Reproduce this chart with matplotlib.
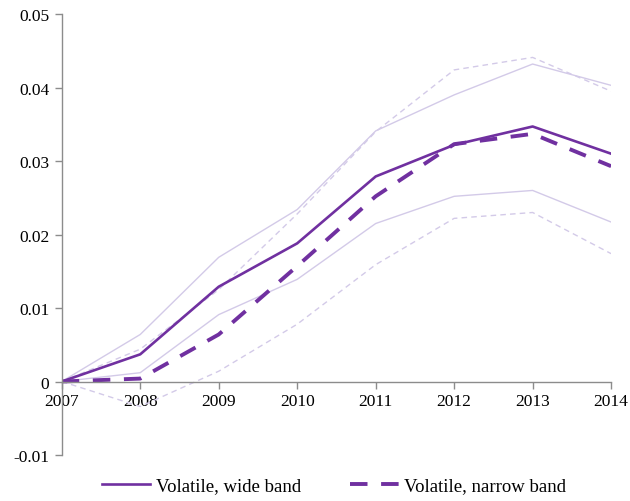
import matplotlib
matplotlib.use("Agg")
import matplotlib.pyplot as plt
from matplotlib.ticker import FixedLocator, FuncFormatter

years = [2007, 2008, 2009, 2010, 2011, 2012, 2013, 2014]

wide_mid = [0.0, 0.0037, 0.0129, 0.0188, 0.0279, 0.0322, 0.0347, 0.0310]
wide_hi = [0.0, 0.0064, 0.0169, 0.0234, 0.0341, 0.0390, 0.0432, 0.0403]
wide_lo = [0.0, 0.0012, 0.0091, 0.0139, 0.0215, 0.0252, 0.0260, 0.0217]

narrow_mid = [0.0, 0.0004, 0.0064, 0.0157, 0.0252, 0.0323, 0.0337, 0.0293]
narrow_hi = [0.0, 0.0044, 0.0125, 0.0228, 0.0340, 0.0424, 0.0441, 0.0395]
narrow_lo = [0.0, -0.0034, 0.0014, 0.0078, 0.0159, 0.0222, 0.0230, 0.0174]

yticks = [-0.01, 0, 0.01, 0.02, 0.03, 0.04, 0.05]

plt.rcParams['font.family'] = ['Liberation Serif', 'DejaVu Serif']

dark = '#7030A0'
light = '#D3CAE8'

fig = plt.figure(figsize=(6.3, 5.02), dpi=100)
ax = fig.add_axes([0.098, 0.0916, 0.872, 0.8784])

ax.plot(years, wide_hi, color=light, lw=1.0)
ax.plot(years, wide_lo, color=light, lw=1.0)
ax.plot(years, narrow_hi, color=light, lw=1.0, dashes=(4, 3))
ax.plot(years, narrow_lo, color=light, lw=1.0, dashes=(4, 3))
ax.plot(years, wide_mid, color=dark, lw=1.9, label='Volatile, wide band')
ax.plot(years, narrow_mid, color=dark, lw=2.8, dashes=(4.5, 3.5),
        label='Volatile, narrow band')

ax.set_xlim(2007, 2014)
ax.set_ylim(-0.01, 0.05)
ax.xaxis.set_major_locator(FixedLocator(years))
ax.yaxis.set_major_locator(FixedLocator(yticks))
ax.yaxis.set_major_formatter(FuncFormatter(lambda v, p: '0' if abs(v) < 1e-12 else f'{v:g}'))

for s in ['top', 'right']:
    ax.spines[s].set_visible(False)
ax.spines['bottom'].set_position(('data', 0))
for s in ['left', 'bottom']:
    ax.spines[s].set_color('#8c8c8c')
    ax.spines[s].set_linewidth(1.0)

ax.tick_params(axis='both', colors='#8c8c8c', labelcolor='black', labelsize=12.5,
               length=5, width=1.0)
ax.tick_params(axis='x', direction='out', pad=3)
ax.tick_params(axis='y', direction='out', pad=4)

fig.legend(loc='center', bbox_to_anchor=(0.53, 0.03), ncol=2, frameon=False,
           fontsize=13.5, handlelength=2.6, columnspacing=2.6, handletextpad=0.3)

fig.savefig('out.png', dpi=100)
